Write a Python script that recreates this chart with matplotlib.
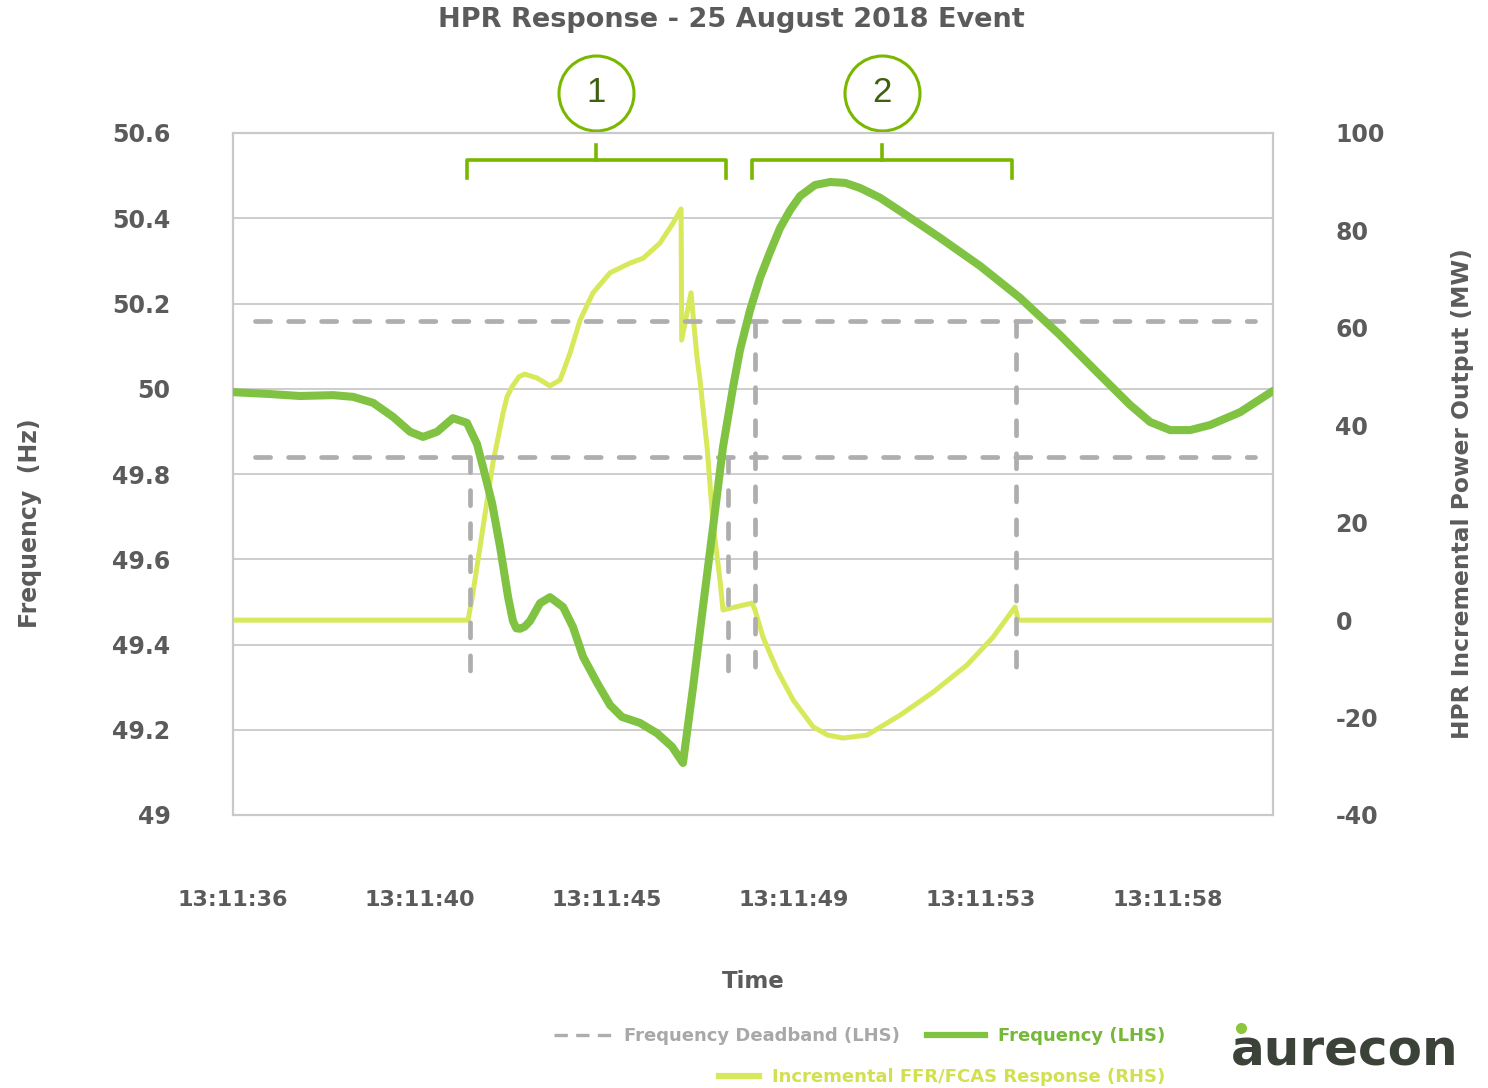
import matplotlib.pyplot as plt
import matplotlib.transforms as mtransforms
from matplotlib.lines import Line2D

plt.rcParams['font.family'] = 'DejaVu Sans'
plt.rcParams['axes.unicode_minus'] = False

# x is measured in tick steps from 13:11:36
tick_pos = [0, 1, 2, 3, 4, 5]
tick_labels = ['13:11:36', '13:11:40', '13:11:45', '13:11:49', '13:11:53', '13:11:58']
x_end = 5.561

hz_ticks = [49, 49.2, 49.4, 49.6, 49.8, 50, 50.2, 50.4, 50.6]
hz_labels = ['49', '49.2', '49.4', '49.6', '49.8', '50', '50.2', '50.4', '50.6']
mw_ticks = [-40, -20, 0, 20, 40, 60, 80, 100]

# frequency (Hz), left axis
freq_t = [0.0, 0.182, 0.358, 0.535, 0.642, 0.749, 0.856, 0.947, 1.016, 1.091,
          1.176, 1.251, 1.305, 1.337, 1.385, 1.428, 1.471, 1.497, 1.515, 1.535,
          1.560, 1.588, 1.642, 1.695, 1.765, 1.818, 1.872, 1.947, 2.016, 2.080,
          2.176, 2.267, 2.348, 2.406, 2.460, 2.513, 2.567, 2.620, 2.674, 2.711,
          2.765, 2.818, 2.872, 2.925, 2.979, 3.032, 3.112, 3.193, 3.273, 3.353,
          3.460, 3.567, 3.781, 3.995, 4.209, 4.422, 4.636, 4.797, 4.904, 5.011,
          5.118, 5.225, 5.385, 5.561]
freq_hz = [49.992, 49.988, 49.983, 49.985, 49.981, 49.967, 49.934, 49.899, 49.887, 49.899,
           49.931, 49.920, 49.870, 49.816, 49.732, 49.629, 49.511, 49.455, 49.438, 49.437,
           49.442, 49.455, 49.497, 49.511, 49.488, 49.441, 49.371, 49.310, 49.258, 49.230,
           49.216, 49.192, 49.160, 49.122, 49.300, 49.488, 49.676, 49.863, 50.004, 50.091,
           50.185, 50.260, 50.321, 50.377, 50.419, 50.452, 50.478, 50.485, 50.483, 50.471,
           50.448, 50.417, 50.354, 50.288, 50.213, 50.126, 50.032, 49.962, 49.922, 49.903,
           49.903, 49.915, 49.945, 49.995]

# incremental FFR/FCAS response (MW), right axis
ffr_t = [0.0, 1.257, 1.283, 1.337, 1.390, 1.444, 1.465, 1.492, 1.530, 1.561,
         1.626, 1.695, 1.749, 1.802, 1.856, 1.925, 2.016, 2.123, 2.193, 2.283,
         2.353, 2.396, 2.399, 2.449, 2.481, 2.497, 2.535, 2.567, 2.604, 2.620,
         2.775, 2.791, 2.834, 2.909, 2.995, 3.102, 3.180, 3.262, 3.390, 3.567,
         3.743, 3.925, 4.064, 4.182, 4.198, 5.561]
ffr_mw = [0.0, 0.0, 5.6, 19.1, 32.3, 42.5, 45.8, 47.9, 50.0, 50.5,
          49.7, 48.1, 49.3, 54.8, 61.6, 67.2, 71.3, 73.3, 74.3, 77.4,
          81.5, 84.4, 57.5, 67.2, 54.0, 49.3, 35.5, 19.9, 8.2, 2.1,
          3.5, 2.1, -3.5, -10.2, -16.4, -21.9, -23.6, -24.2, -23.6, -19.5,
          -14.8, -9.2, -3.5, 2.7, 0.0, 0.0]

# frequency deadband (Hz)
deadband = [50.16, 49.84]
deadband_t = [0.118, 5.465]
vline_t = [1.267, 2.647, 2.791, 4.187]
vline_top = [49.84, 49.84, 50.16, 50.16]
vline_bottom = 49.335

# bracketed periods
periods = [(1.251, 2.636, '1'), (2.775, 4.166, '2')]

GREEN = '#80C241'
LIME = '#D7E95A'
DASH = '#AEAEAE'
GRID = '#C9C9C9'
TEXT = '#5B5B5B'
BRACKET = '#7AB800'

fig = plt.figure(figsize=(14.88, 10.88), dpi=100)
ax = fig.add_axes([233 / 1488, 1 - 815 / 1088, 1040 / 1488, 682 / 1088])
ax2 = ax.twinx()
ax.set_zorder(ax2.get_zorder() + 1)
ax.patch.set_visible(False)

ax.set_xlim(0, x_end)
ax.set_ylim(49, 50.6)
ax2.set_ylim(-40, 100)

# gridlines at the left-axis ticks, drawn under both series
grid_tr = mtransforms.blended_transform_factory(ax2.transAxes, ax.transData)
for h in hz_ticks:
    ax2.plot([0, 1], [h, h], color=GRID, lw=1.3, transform=grid_tr, zorder=0)

ax2.plot(ffr_t, ffr_mw, color=LIME, lw=3.6, solid_joinstyle='round',
         solid_capstyle='round', zorder=3)

dash_kw = dict(color=DASH, lw=3.4, dashes=(3.2, 3.8), dash_capstyle='round', zorder=2)
for d in deadband:
    ax.plot(deadband_t, [d, d], **dash_kw)
for t, top in zip(vline_t, vline_top):
    ax.plot([t, t], [top, vline_bottom], **dash_kw)

ax.plot(freq_t, freq_hz, color=GREEN, lw=5.8, solid_joinstyle='round',
        solid_capstyle='round', zorder=4)

ax.set_xticks(tick_pos, tick_labels)
ax.set_yticks(hz_ticks, hz_labels)
ax2.set_yticks(mw_ticks)
ax.tick_params(axis='x', length=0, pad=54, labelsize=16, labelcolor=TEXT)
ax.tick_params(axis='y', length=0, pad=45, labelsize=17, labelcolor=TEXT)
ax2.tick_params(axis='y', length=0, pad=45, labelsize=17, labelcolor=TEXT)
for lab in ax.get_xticklabels() + ax.get_yticklabels() + ax2.get_yticklabels():
    lab.set_fontweight('bold')

for a in (ax, ax2):
    for s in a.spines.values():
        s.set_color(GRID)
        s.set_linewidth(1.5)

# brackets and numbered circles above the plot
br_tr = mtransforms.blended_transform_factory(ax.transData, ax.transAxes)
for x0, x1, num in periods:
    xc = (x0 + x1) / 2
    ax.plot([x0, x0, x1, x1], [0.934, 0.9604, 0.9604, 0.934], color=BRACKET,
            lw=2.6, transform=br_tr, clip_on=False, solid_joinstyle='round')
    ax.plot([xc, xc], [0.9604, 0.9824], color=BRACKET, lw=2.6,
            transform=br_tr, clip_on=False)
    ax.plot([xc], [1.0587], marker='o', markersize=54, mfc='white', mec=BRACKET,
            mew=2.2, transform=br_tr, clip_on=False)
    ax.text(xc, 1.0587, num, transform=br_tr, ha='center', va='center',
            fontsize=25, color='#3F6010', family='Liberation Sans')

fig.text(731 / 1488, 1 - 20 / 1088, 'HPR Response - 25 August 2018 Event',
         ha='center', va='center', fontsize=19.5, fontweight='bold', color=TEXT)
fig.text(30 / 1488, 1 - 523 / 1088, 'Frequency  (Hz)', rotation=90,
         ha='center', va='center', fontsize=17, fontweight='bold', color=TEXT)
fig.text(1463 / 1488, 1 - 494 / 1088, 'HPR Incremental Power Output (MW)', rotation=90,
         ha='center', va='center', fontsize=16.8, fontweight='bold', color=TEXT)
fig.text(753 / 1488, 1 - 982 / 1088, 'Time', ha='center', va='center',
         fontsize=16.5, fontweight='bold', color=TEXT)

# legend
h_db = Line2D([], [], color=DASH, lw=2.4, dashes=(4, 2.5))
h_fr = Line2D([], [], color=GREEN, lw=4.5)
h_ffr = Line2D([], [], color=LIME, lw=4.5)
leg_kw = dict(frameon=False, loc='center right', borderaxespad=0, borderpad=0,
              prop={'size': 13, 'weight': 'bold'}, handletextpad=0.7)
fig.legend([h_db, h_fr], ['Frequency Deadband (LHS)', 'Frequency (LHS)'],
           bbox_to_anchor=(1165 / 1488, 1 - 1036 / 1088), ncol=2,
           handlelength=3.2, columnspacing=1.5, labelcolor=['#A8A8A8', '#76B83A'],
           **leg_kw)
fig.legend([h_ffr], ['Incremental FFR/FCAS Response (RHS)'],
           bbox_to_anchor=(1165 / 1488, 1 - 1077 / 1088), handlelength=2.2,
           labelcolor=['#D2E04F'], **leg_kw)

# aurecon logo
fig.text(1345 / 1488, 1 - 1052 / 1088, 'aurecon', ha='center', va='center',
         fontsize=36, fontweight='bold', color='#3B4238')
fig.add_artist(Line2D([1241 / 1488], [1 - 1028 / 1088], marker='o', markersize=7,
                      color='#8CC63F', transform=fig.transFigure))

fig.savefig('out.png', dpi=100)
